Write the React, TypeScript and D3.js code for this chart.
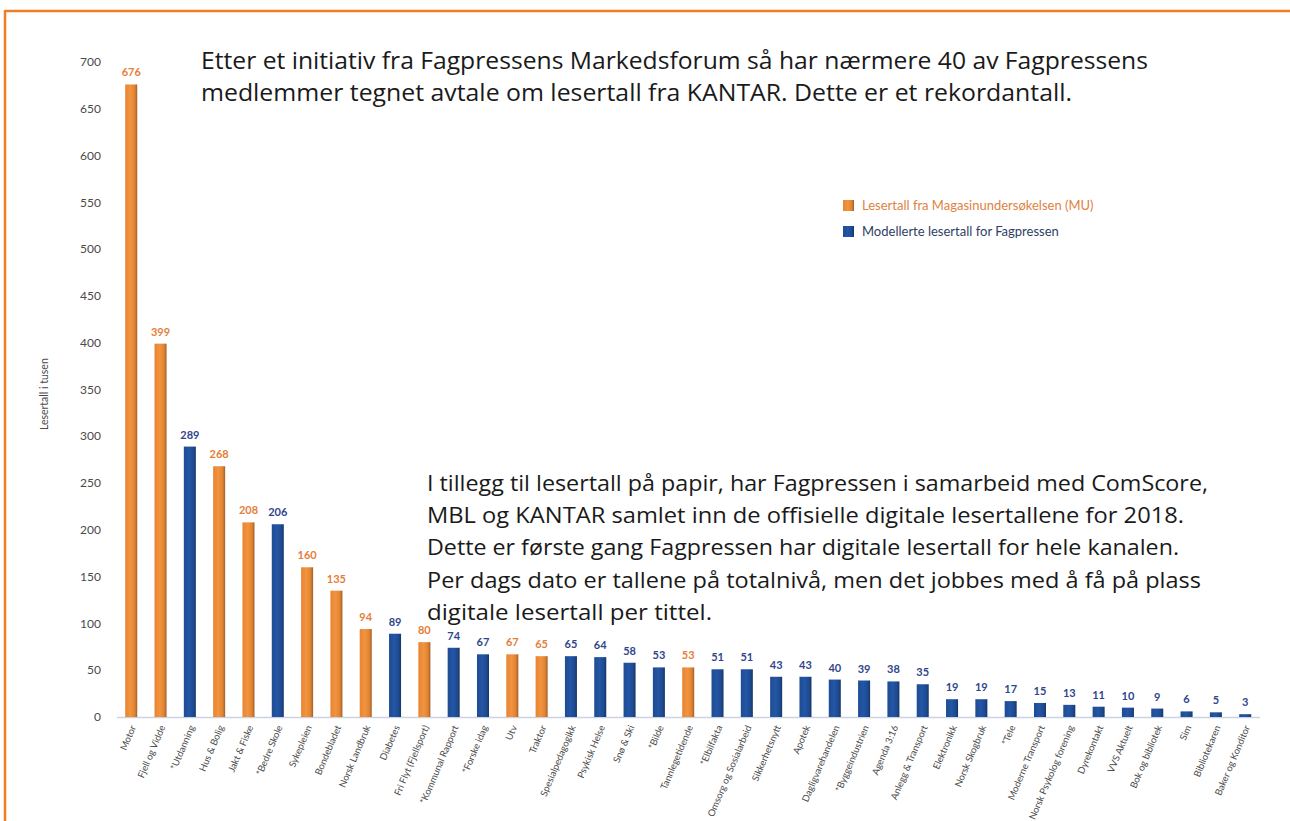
import React from "react";
import * as d3 from "d3";

const categories = [
  "Motor", "Fjell og Vidde", "*Utdanning", "Hus & Bolig", "Jakt & Fiske", "*Bedre Skole",
  "Sykepleien", "Bondebladet", "Norsk Landbruk", "Diabetes", "Fri Flyt (Fjellsport)",
  "*Kommunal Rapport", "*Forske idag", "Utv", "Traktor", "Spesialpedagogikk", "Psykisk Helse",
  "Snø & Ski", "*Bilde", "Tannlegetidende", "*Elbilfakta", "Omsorg og Sosialarbeid",
  "Sikkerhetsnytt", "Apotek", "Dagligvarehandelen", "*Byggeindustrien", "Agenda 3:16",
  "Anlegg & Transport", "Elektronikk", "Norsk Skogbruk", "*Tele", "Moderne Transport",
  "Norsk Psykolog forening", "Dyrekontakt", "VVS Aktuelt", "Bok og bibliotek", "Sim",
  "Bibliotekaren", "Baker og Konditor",
];
const values = [
  676, 399, 289, 268, 208, 206, 160, 135, 94, 89, 80, 74, 67, 67, 65, 65, 64, 58, 53, 53,
  51, 51, 43, 43, 40, 39, 38, 35, 19, 19, 17, 15, 13, 11, 10, 9, 6, 5, 3,
];
// "MU" = Lesertall fra Magasinundersøkelsen, "FP" = Modellerte lesertall for Fagpressen
const sources = [
  "MU", "MU", "FP", "MU", "MU", "FP", "MU", "MU", "MU", "FP", "MU", "FP", "FP", "MU", "MU",
  "FP", "FP", "FP", "FP", "MU", "FP", "FP", "FP", "FP", "FP", "FP", "FP", "FP", "FP", "FP",
  "FP", "FP", "FP", "FP", "FP", "FP", "FP", "FP", "FP",
];
const yTicks = [0, 50, 100, 150, 200, 250, 300, 350, 400, 450, 500, 550, 600, 650, 700];
const legendLabels = ["Lesertall fra Magasinundersøkelsen (MU)", "Modellerte lesertall for Fagpressen"];
const topText = [
  "Etter et initiativ fra Fagpressens Markedsforum så har nærmere 40 av Fagpressens",
  "medlemmer tegnet avtale om lesertall fra KANTAR. Dette er et rekordantall.",
];
const midText = [
  "I tillegg til lesertall på papir, har Fagpressen i samarbeid med ComScore,",
  "MBL og KANTAR samlet inn de offisielle digitale lesertallene for 2018.",
  "Dette er første gang Fagpressen har digitale lesertall for hele kanalen.",
  "Per dags dato er tallene på totalnivå, men det jobbes med å få på plass",
  "digitale lesertall per tittel.",
];

const W = 1290;
const H = 821;

export default function App() {
  const x = d3
    .scaleBand<string>()
    .domain(categories)
    .range([116.4, 1260])
    .paddingInner(0.59)
    .paddingOuter(0.3);
  const y = d3.scaleLinear().domain([0, 700]).range([717, 62]);
  const bw = x.bandwidth();
  const textFont = "'Open Sans', sans-serif";
  const smallFont = "Lato, 'Open Sans', sans-serif";

  return (
    <svg
      width={W}
      height={H}
      viewBox={`0 0 ${W} ${H}`}
      style={{ position: "absolute", left: 0, top: 0, background: "#fff" }}
    >
      <defs>
        <linearGradient id="gOr" x1="0" x2="1" y1="0" y2="0">
          <stop offset="0" stopColor="#E98433" />
          <stop offset="0.45" stopColor="#F19440" />
          <stop offset="0.8" stopColor="#E0822F" />
          <stop offset="1" stopColor="#9E5E2A" />
        </linearGradient>
        <linearGradient id="gBl" x1="0" x2="1" y1="0" y2="0">
          <stop offset="0" stopColor="#1E4C94" />
          <stop offset="0.45" stopColor="#2456A5" />
          <stop offset="0.8" stopColor="#1D4A90" />
          <stop offset="1" stopColor="#163665" />
        </linearGradient>
      </defs>
      <rect x={0} y={0} width={W} height={H} fill="#fff" />
      {/* orange frame */}
      <line x1={5} x2={W} y1={11} y2={11} stroke="#F07D22" strokeWidth={2.5} />
      <line x1={5} x2={5} y1={10} y2={H} stroke="#F07D22" strokeWidth={2.5} />

      {/* y axis ticks */}
      {yTicks.map((t) => (
        <text
          key={t}
          x={101}
          y={y(t)}
          dy="0.35em"
          textAnchor="end"
          fontFamily={smallFont}
          fontSize={12}
          fill="#4a4a4a"
        >
          {t}
        </text>
      ))}
      <text
        transform={`translate(44,${y(345)}) rotate(-90)`}
        textAnchor="middle"
        dy="0.35em"
        fontFamily={smallFont}
        fontSize={10.5}
        fill="#4a4a4a"
      >
        Lesertall i tusen
      </text>

      {/* baseline */}
      <line x1={117} x2={1260} y1={y(0) + 0.5} y2={y(0) + 0.5} stroke="#C9D3E2" strokeWidth={1.5} />

      {/* bars */}
      {categories.map((c, i) => {
        const v = values[i];
        const mu = sources[i] === "MU";
        const x0 = x(c)!;
        return (
          <g key={c}>
            <rect
              x={x0}
              y={y(v)}
              width={bw}
              height={y(0) - y(v)}
              fill={mu ? "url(#gOr)" : "url(#gBl)"}
            />
            <text
              x={x0 + bw / 2}
              y={y(v) - 8}
              textAnchor="middle"
              fontFamily={smallFont}
              fontSize={11}
              fontWeight={700}
              fill={mu ? "#E47E3A" : "#30468A"}
            >
              {v}
            </text>
            <text
              transform={`translate(${x0 + bw / 2 + 5},${y(0) + 10}) rotate(-67)`}
              textAnchor="end"
              fontFamily={smallFont}
              fontSize={9.5}
              fill="#4a4a4a"
            >
              {c}
            </text>
          </g>
        );
      })}

      {/* legend */}
      {legendLabels.map((l, i) => (
        <g key={l} transform={`translate(843,${200 + i * 26})`}>
          <rect width={11} height={11} fill={i === 0 ? "url(#gOr)" : "url(#gBl)"} />
          <text
            x={19}
            y={5.5}
            dy="0.35em"
            fontFamily={smallFont}
            fontSize={13}
            fill={i === 0 ? "#E0823F" : "#2E3F66"}
          >
            {l}
          </text>
        </g>
      ))}

      {/* annotations */}
      {topText.map((t, i) => (
        <text
          key={t}
          x={201}
          y={60 + i * 32}
          dy="0.35em"
          fontFamily={textFont}
          fontSize={24.3}
          fill="#1a1a1a"
          textLength={i === 0 ? 947 : 871}
          lengthAdjust="spacingAndGlyphs"
        >
          {t}
        </text>
      ))}
      {midText.map((t, i) => (
        <text
          key={t}
          x={427}
          y={483 + i * 32.2}
          dy="0.35em"
          fontFamily={textFont}
          fontSize={22.6}
          fill="#1a1a1a"
          textLength={[781, 757, 752, 774, 285][i]}
          lengthAdjust="spacingAndGlyphs"
        >
          {t}
        </text>
      ))}
    </svg>
  );
}
